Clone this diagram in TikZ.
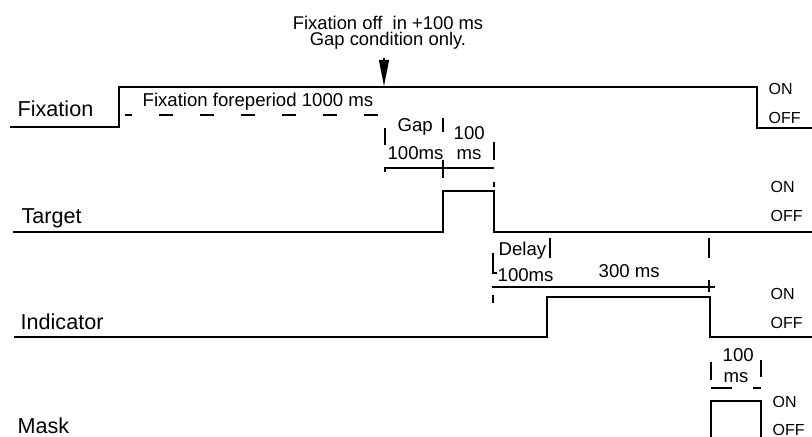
\documentclass[tikz,border=0pt]{standalone}
\usepackage{fontspec}
\setmainfont{Liberation Sans}
\usetikzlibrary{arrows.meta}
\begin{document}
\begin{tikzpicture}[x=0.5pt,y=-0.5pt,line width=0.65pt,
	sig/.style={anchor=base west,inner sep=0pt,font=\fontsize{10.8}{12}\selectfont},
	lvl/.style={anchor=base west,inner sep=0pt,font=\fontsize{8}{9}\selectfont},
	dur/.style={anchor=base west,inner sep=0pt,font=\fontsize{9.3}{10}\selectfont}]
	\useasboundingbox (0,0) rectangle (812,437);
	% signal names and levels
	\node[sig](FIX) at (17,117){Fixation};
	\node[sig](TGT) at (21,224){Target};
	\node[sig](IND) at (20,330){Indicator};
	\node[sig](MSK) at (17,433){Mask};
	\foreach \x/\y/\d/\nm in {768/95/29/FIX,770/193/29/TGT,770/300/29/IND,772/408/27/MSK}{
		\node[lvl](\nm on) at (\x,\y){ON};
		\node[lvl](\nm off) at (\x,\y+\d){OFF};
	}
	% traces
	\draw (10,127) -- (119,127) -- (119,87) -- (757,87) -- (757,128) -- (812,128);
	\draw (13,232) -- (443,232) -- (443,191) -- (494,191) -- (494,232) -- (812,232);
	\draw (14,337) -- (547,337) -- (547,297) -- (710,297) -- (710,337) -- (812,337);
	\draw (711,440) -- (711,401) -- (761,401) -- (761,440);
	% fixation offset
	\node[align=center,inner sep=0pt,font=\fontsize{9.2}{8}\selectfont,anchor=south](OFFNOTE) at (388,50){Fixation off\ \ in +100 ms\\Gap condition only.};
	\coordinate (FIXARR) at (384,86);
	\draw[-{Triangle[length=13pt,width=5pt]},shorten <=4pt] (OFFNOTE.south -| FIXARR) -- (FIXARR);
	\node[dur](FORE) at (142,107){Fixation foreperiod 1000 ms};
	\draw[dash pattern=on 7pt off 13.5pt,dash phase=3.5pt] (125,115) -- (378,115);
	% gap and target
	\node[dur](GAP) at (397,132){Gap};
	\node[dur](GAPMS) at (387,160){100ms};
	\node[dur](TGTA) at (453,140){100};
	\node[dur](TGTB) at (456,160){ms};
	\draw (385,128) -- (385,145);
	\draw (443,118) -- (443,132);
	\draw (494,142) -- (494,160);
	\draw (385,172) -- (385,168) -- (494,168);
	\draw (443,160) -- (443,178);
	\draw (494,182) -- (494,187);
	% delay and indicator
	\node[dur](DELAY) at (498,256){Delay};
	\node[dur](DELMS) at (497,282){100ms};
	\node[dur](INDMS) at (598,278){300 ms};
	\draw (493,253) -- (493,273) -- (497,273);
	\draw (550,238) -- (550,258);
	\draw (709,238) -- (709,258);
	\draw (492,287) -- (715,287);
	\draw (709,280) -- (709,292);
	\draw (493,295) -- (493,303);
	% mask
	\node[dur](MSKA) at (722,362){100};
	\node[dur](MSKB) at (723,382){ms};
	\draw (711,362) -- (711,380);
	\draw (761,360) -- (761,377);
	\draw (711,388) -- (732,388);
	\draw (753,388) -- (761,388);
\end{tikzpicture}
\end{document}
